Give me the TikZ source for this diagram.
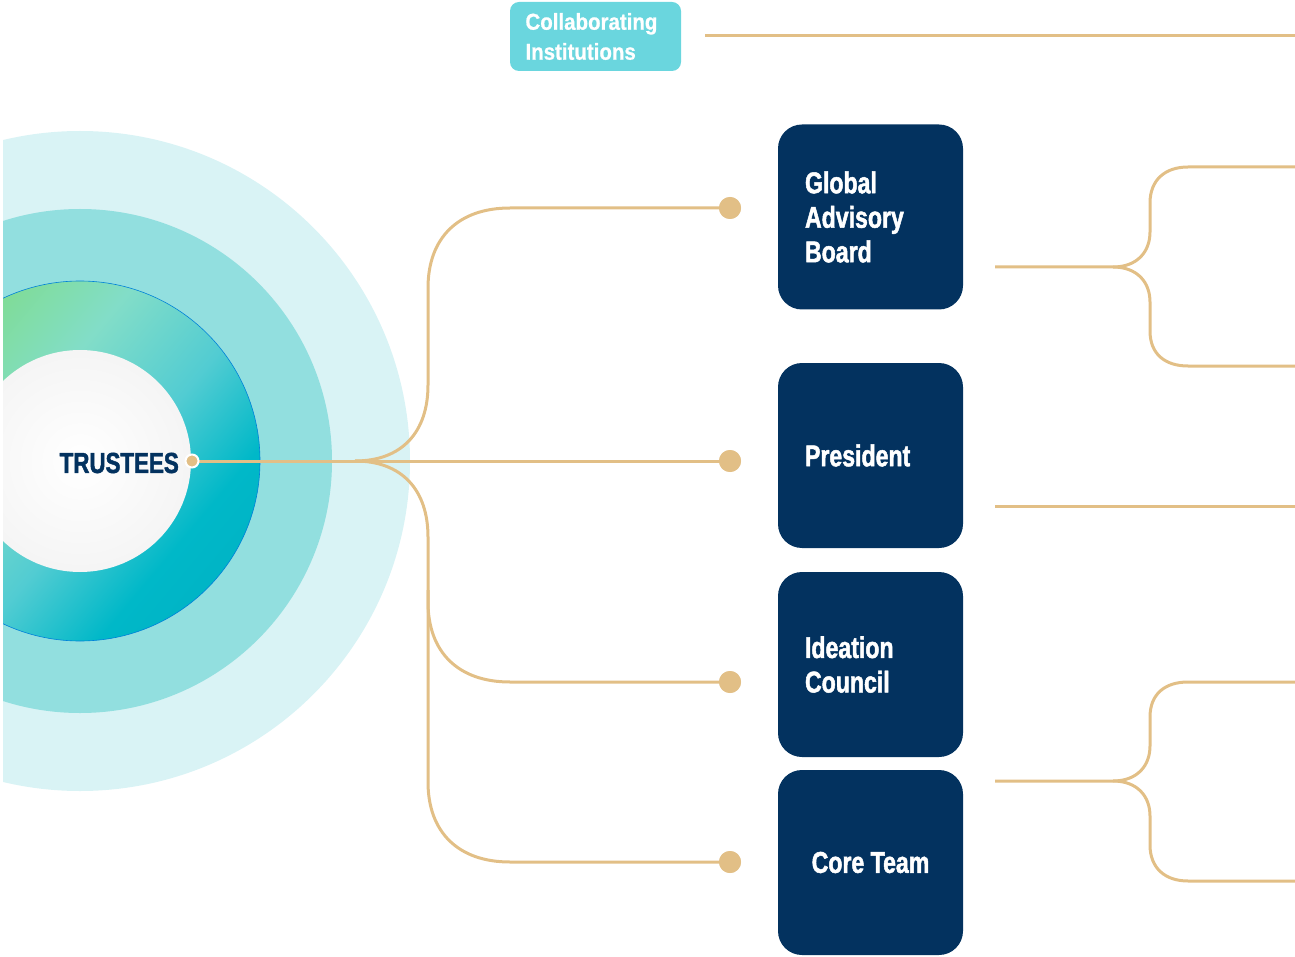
\documentclass[tikz,border=0pt]{standalone}
\usepackage{fontspec}
\newfontfamily\boxfont{Liberation Sans Bold}[FakeStretch=0.77,FakeBold=1.6]
\newfontfamily\colfont{Liberation Sans Bold}[FakeStretch=0.89,FakeBold=0.8]
\definecolor{navy}{HTML}{03325F}
\definecolor{tan}{HTML}{E2BF86}
\definecolor{collab}{HTML}{6AD6DE}
\definecolor{ringA}{HTML}{D9F3F5}
\definecolor{ringB}{HTML}{92DFDF}
\definecolor{gGreen}{HTML}{7FDC84}
\definecolor{gMint}{HTML}{82DDC8}
\definecolor{gCyan}{HTML}{52CCD2}
\definecolor{gTeal}{HTML}{00B8C8}
\definecolor{gDark}{HTML}{00A8BE}
\pgfdeclarehorizontalshading{ringshade}{100bp}{color(0bp)=(gGreen); color(22bp)=(gGreen); color(40bp)=(gMint); color(55bp)=(gCyan); color(68bp)=(gTeal); color(100bp)=(gDark)}
\tikzset{
  orgbox/.style={fill=navy, rounded corners=24pt, minimum width=185pt, minimum height=185pt,
    text=white, font={\boxfont\fontsize{30}{34.5}\selectfont}, inner sep=0pt},
  conn/.style={draw=tan, line width=3pt},
  tandot/.style={circle, fill=tan, minimum size=22pt, inner sep=0pt},
}
\begin{document}
\begin{tikzpicture}[x=1pt,y=-1pt]
\useasboundingbox (0,0) rectangle (1295,957);
% concentric rings
\begin{scope}
  \clip (3,0) rectangle (1295,957);
  \fill[ringA] (80,461) circle (330);
  \fill[ringB] (80,461) circle (252);
  \shade[shading=ringshade, shading angle=-40] (80,461) circle (180);
  \draw[draw=gTeal!70!blue, line width=0.6pt] (80,461) circle (180);
  \shade[inner color=white, outer color=white!92!gray] (80,461) circle (111);
\end{scope}
% trustees
\node[anchor=east, text=navy, font={\boxfont\fontsize{29}{34}\selectfont}, inner sep=0pt] (trustees) at (179,463) {TRUSTEES};
% branching connectors
\coordinate (br) at (355,461);
\node[tandot] (gdot) at (730,208) {};
\node[tandot] (pdot) at (730,461) {};
\node[tandot] (idot) at (730,682) {};
\node[tandot] (cdot) at (730,862) {};
\coordinate (tstart) at (192,461);
\draw[conn] (tstart) -- (pdot.center);
\draw[conn] (br) .. controls (402,461) and (428,432) .. (428,385) -- (428,288)
   .. controls (428,238) and (458,208) .. (510,208) -- (gdot.center);
\draw[conn] (br) .. controls (402,461) and (428,490) .. (428,537) -- (428,602)
   .. controls (428,652) and (458,682) .. (510,682) -- (idot.center);
\draw[conn] (428,590) -- (428,782)
   .. controls (428,832) and (458,862) .. (510,862) -- (cdot.center);
\node[tandot] at (730,208) {};
\node[tandot] at (730,461) {};
\node[tandot] at (730,682) {};
\node[tandot] at (730,862) {};
\node[circle, fill=tan, draw=white, line width=2pt, minimum size=13pt, inner sep=0pt] (tdot) at (192,461) {};
% boxes
\node[orgbox, text width=131pt, align=left] (gab) at (870.5,217) {Global\\Advisory\\Board};
\node[orgbox, text width=131pt, align=left] (pres) at (870.5,455.5) {President};
\node[orgbox, text width=131pt, align=left] (idea) at (870.5,664.5) {Ideation\\Council};
\node[orgbox, align=center] (core) at (870.5,862.5) {Core Team};
% collaborating institutions
\node[fill=collab, rounded corners=9pt, minimum width=171pt, minimum height=69pt, inner sep=0pt,
  text=white, text width=140pt, align=left, font={\colfont\fontsize{23}{30}\selectfont}] (collab) at (595.5,36.5) {Collaborating\\Institutions};
\coordinate (colend) at (1295,36);
\draw[conn] (705,36) -- (colend);
% right brackets
\coordinate (gout) at (995,267);
\coordinate (gup) at (1295,167);
\coordinate (gdn) at (1295,366);
\draw[conn] (gout) -- (1113,267) .. controls (1137,267) and (1150,252) .. (1150,232) -- (1150,203)
   .. controls (1150,180) and (1165,167) .. (1188,167) -- (gup);
\draw[conn] (1113,267) .. controls (1137,267) and (1150,282) .. (1150,302) -- (1150,331)
   .. controls (1150,354) and (1165,366) .. (1188,366) -- (gdn);
\coordinate (pout) at (995,506);
\coordinate (pend) at (1295,506);
\draw[conn] (pout) -- (pend);
\coordinate (cout) at (995,781);
\coordinate (cup) at (1295,682);
\coordinate (cdn) at (1295,881);
\draw[conn] (cout) -- (1113,781) .. controls (1137,781) and (1150,766) .. (1150,746) -- (1150,717)
   .. controls (1150,694) and (1165,682) .. (1188,682) -- (cup);
\draw[conn] (1113,781) .. controls (1137,781) and (1150,796) .. (1150,816) -- (1150,845)
   .. controls (1150,868) and (1165,881) .. (1188,881) -- (cdn);
\end{tikzpicture}
\end{document}
